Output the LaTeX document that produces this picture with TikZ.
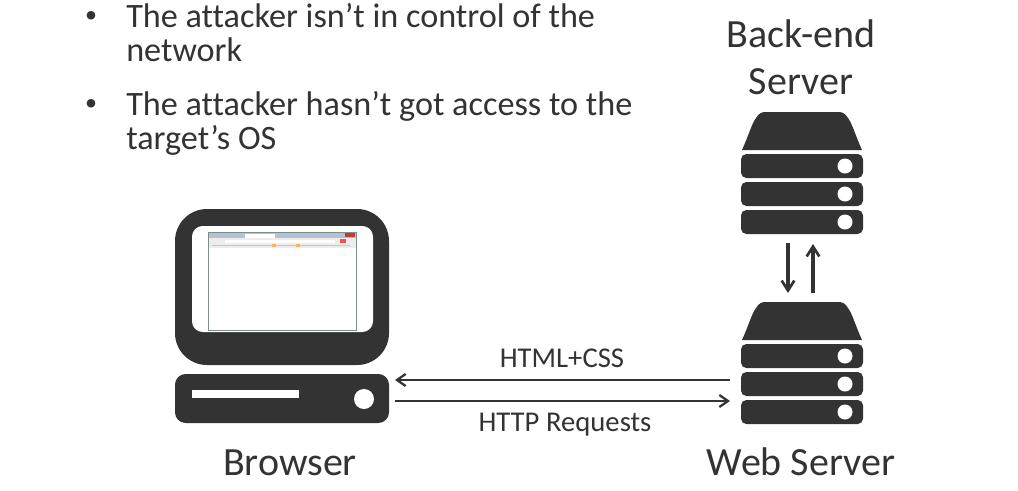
\documentclass[tikz,border=0pt]{standalone}
\usepackage{fontspec}
\setmainfont[Ligatures=NoCommon]{Carlito}
\usetikzlibrary{arrows.meta}
\definecolor{ink}{HTML}{333333}
\definecolor{framecol}{HTML}{7F8F85}
\definecolor{tabcol}{HTML}{B4C2D6}
\definecolor{barcol}{HTML}{EDEDED}
\tikzset{
  solid ink/.style={fill=ink,draw=none},
  hole/.style={fill=white,draw=none},
  link/.style={draw=ink,line width=1.9pt,-{Straight Barb[length=6.5pt,width=9pt,line width=1.7pt]}},
  vlink/.style={draw=ink,line width=2.3pt,-{Straight Barb[length=7.5pt,width=9.5pt,line width=2pt]}},
  bigtxt/.style={text=ink,font=\fontsize{30pt}{34pt}\selectfont,inner sep=0pt,align=center},
  bullet/.style={text=ink,font=\fontsize{25.65pt}{25.6pt}\selectfont,inner sep=0pt,align=left,anchor=north west},
  dotmark/.style={text=ink,font=\fontsize{18pt}{18pt}\selectfont,inner sep=0pt},
  smalltxt/.style={text=ink,font=\fontsize{21.5pt}{24pt}\selectfont,inner sep=0pt},
  rack/.style={solid ink,rounded corners=4pt},
  server/.pic={
    \fill[solid ink] (-60,38) .. controls (-54,25) and (-50,11) .. (-46,6) .. controls (-43,1) and (-40,0) .. (-36,0)
      -- (36,0) .. controls (40,0) and (43,1) .. (46,6) .. controls (50,11) and (54,25) .. (60,38) -- cycle;
    \foreach \t in {42,70,98}{
      \fill[rack] (-61,\t) rectangle (61,\t+24);
      \fill[hole] (43,\t+12) circle (7.5);
    }
  }
}
\begin{document}
\begin{tikzpicture}[x=0.75pt,y=-0.75pt]
\useasboundingbox (0,0) rectangle (1018,490);
\fill[white] (0,0) rectangle (1018,490);
% bullets
\node[bullet] (b1) at (126,3) {The attacker isn’t in control of the\\network};
\node[bullet] (b2) at (126,91) {The attacker hasn’t got access to the\\target’s OS};
\node[dotmark] (d1) at (91,17) {•};
\node[dotmark] (d2) at (91,105) {•};
% monitor
\fill[solid ink,rounded corners=24pt] (175,209) rectangle (389,365);
\fill[hole,rounded corners=8pt] (192,226) rectangle (373,332);
\fill[fill=white,draw=framecol,line width=0.7pt] (208.5,232.5) rectangle (356,330);
\fill[tabcol] (209,232.5) rectangle (356,238);
\fill[white] (245,234) rectangle (275,238);
\fill[red!55!gray] (345,233) rectangle (355,237);
\fill[barcol] (209,238) rectangle (356,248);
\fill[white] (225,239.5) rectangle (335,242.5);
\fill[red!70] (340,239) rectangle (346,243);
\fill[gray!45] (212,244.5) rectangle (350,246);
\fill[orange!60] (272,244) rectangle (276,247);
\fill[orange!60] (296,244) rectangle (300,247);
% base
\fill[solid ink,rounded corners=8pt] (175,374) rectangle (389,423);
\fill[hole] (192,390) rectangle (299,398);
\fill[hole] (364,399) circle (10);
% servers
\pic at (802,112) {server};
\pic at (802,302) {server};
% anchors for connectors
\coordinate (pcTop) at (395,380);
\coordinate (pcLow) at (395,401);
\coordinate (webTop) at (730,380);
\coordinate (webLow) at (730,401);
\coordinate (backA) at (788,243);
\coordinate (webA) at (788,293);
\coordinate (webB) at (813,293);
\coordinate (backB) at (813,244);
\draw[link] (webTop) -- (pcTop);
\draw[link] (pcLow) -- (webLow);
\draw[vlink] (backA) -- (webA);
\draw[vlink] (webB) -- (backB);
% labels
\node[smalltxt] (l1) at (562,358) {HTML+CSS};
\node[smalltxt] (l2) at (565,425) {HTTP Requests};
\node[bigtxt] (l3) at (290,463) {Browser};
\node[bigtxt] (l4) at (801,462) {Web Server};
\node[bigtxt] (l5) at (801,34) {Back-end};
\node[bigtxt] (l6) at (801,82) {Server};
\end{tikzpicture}
\end{document}
